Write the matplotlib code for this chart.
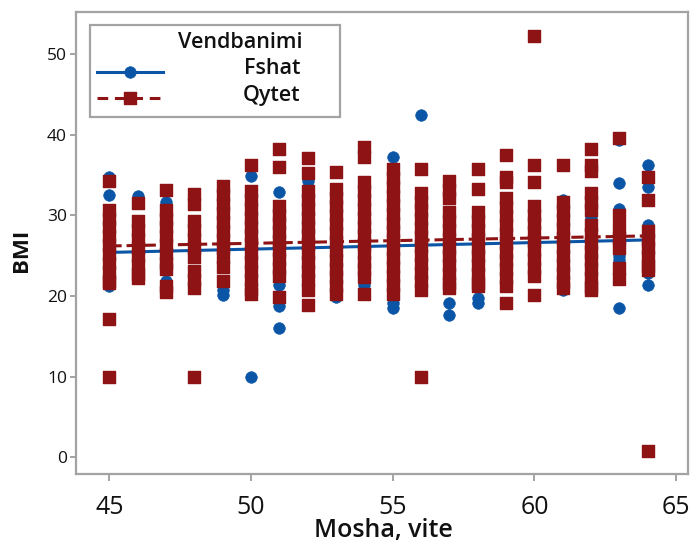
import matplotlib
matplotlib.use("Agg")
import matplotlib.pyplot as plt
from matplotlib.patches import Rectangle
from matplotlib.markers import MarkerStyle

# ---------------- data ----------------
ages = list(range(45, 65))

# Qytet (city) BMI values per age
qytet = {
    45: [34.3, 30.7, 29.6, 28.5, 27.4, 26.3, 25.2, 24.1, 23.0, 21.9, 21.6, 17.1, 10.0],
    46: [31.5, 29.3, 28.2, 27.1, 26.0, 24.9, 23.8, 22.7, 22.2],
    47: [33.1, 30.7, 29.6, 28.5, 27.4, 26.3, 25.2, 24.1, 23.4, 21.2, 20.5],
    48: [32.6, 31.4, 29.3, 28.2, 27.1, 26.0, 24.8, 23.1, 22.0, 21.0, 10.0],
    49: [33.6, 32.5, 31.4, 30.3, 29.2, 28.1, 27.0, 25.9, 24.8, 23.6, 21.8],
    50: [36.2, 33.0, 31.9, 30.8, 29.7, 28.6, 27.5, 26.4, 25.3, 24.2, 23.1, 22.0, 20.9, 20.3],
    51: [38.2, 36.0, 31.2, 30.1, 29.0, 27.9, 26.8, 25.7, 24.6, 23.5, 22.5, 19.9],
    52: [37.1, 35.2, 33.0, 31.9, 30.8, 29.7, 28.6, 27.5, 26.4, 25.3, 24.2, 23.1, 22.0, 20.7, 18.9],
    53: [35.4, 33.3, 32.2, 31.1, 30.0, 28.9, 27.8, 26.7, 25.6, 24.5, 23.4, 22.3, 21.2, 20.3],
    54: [38.5, 37.2, 34.1, 33.0, 31.9, 30.8, 29.7, 28.6, 27.5, 26.4, 25.3, 24.2, 23.3, 22.4, 20.3],
    55: [35.7, 34.6, 33.5, 32.4, 31.3, 30.2, 29.1, 28.0, 26.9, 25.8, 24.7, 23.6, 22.5, 21.4, 20.3],
    56: [35.8, 32.8, 31.7, 30.6, 29.5, 28.4, 27.3, 26.2, 25.1, 24.0, 22.9, 21.8, 20.7, 10.0],
    57: [34.3, 33.2, 32.1, 30.4, 29.3, 28.2, 27.1, 26.0, 24.9, 23.8, 22.7, 21.6, 21.0],
    58: [35.8, 33.3, 30.4, 29.3, 28.2, 27.1, 26.0, 24.9, 23.8, 22.7, 21.6, 21.2],
    59: [37.5, 34.8, 34.1, 32.1, 31.0, 29.9, 28.8, 27.7, 26.6, 25.5, 24.4, 23.3, 22.2, 21.2, 19.1],
    60: [52.2, 36.3, 34.1, 31.2, 30.1, 29.0, 27.9, 26.8, 25.7, 24.6, 23.5, 22.5, 20.1],
    61: [36.2, 31.6, 30.5, 29.4, 28.3, 27.2, 26.1, 25.0, 23.9, 22.8, 21.7, 21.0],
    62: [38.2, 36.3, 35.5, 32.8, 31.7, 30.6, 28.8, 27.7, 26.6, 25.5, 24.4, 23.3, 22.2, 21.1, 20.7],
    63: [39.6, 30.0, 28.4, 27.2, 26.0, 23.5, 22.1],
    64: [34.7, 31.9, 28.1, 27.0, 25.9, 24.8, 23.7, 23.2, 0.8],
}

# Fshat (village) BMI values per age
fshat = {
    45: [34.8, 32.5, 29.0, 27.0, 25.0, 23.0, 21.2],
    46: [32.4, 28.0, 26.0, 24.0],
    47: [31.6, 29.0, 27.0, 25.0, 21.9],
    48: [28.0, 26.0, 22.0],
    49: [29.0, 26.0, 24.0, 20.7, 20.1],
    50: [34.9, 30.0, 27.0, 24.0, 21.0, 10.0],
    51: [32.9, 29.0, 26.0, 23.0, 21.4, 18.7, 16.0],
    52: [34.2, 30.0, 27.0, 24.0, 21.5],
    53: [31.0, 28.0, 25.0, 22.0, 19.9],
    54: [32.0, 29.0, 26.0, 23.5, 21.35],
    55: [37.2, 33.0, 29.0, 25.0, 22.0, 19.1, 18.5],
    56: [42.4, 30.0, 27.0, 24.0, 21.5],
    57: [29.0, 26.0, 23.0, 19.1, 17.6],
    58: [29.0, 26.0, 23.0, 19.7, 19.1],
    59: [30.0, 27.0, 24.0],
    60: [29.0, 26.0, 23.5],
    61: [31.9, 28.0, 25.0, 22.5, 20.7],
    62: [29.7, 27.0, 24.0, 22.0],
    63: [39.3, 34.0, 30.8, 27.0, 24.9, 24.5, 18.5],
    64: [36.2, 33.5, 28.8, 26.0, 22.8, 21.3],
}

# fitted regression lines (end points)
fit_x = [45, 64]
fit_fshat = [25.4, 26.95]
fit_qytet = [26.2, 27.45]

legend_title = "Vendbanimi"
group_labels = ["Fshat", "Qytet"]
x_label = "Mosha, vite"
y_label = "BMI"
x_ticks = [45, 50, 55, 60, 65]
y_ticks = [0, 10, 20, 30, 40, 50]

BLUE = "#0a55a5"
RED = "#8e1315"
GRAY = "#a3a3a3"

plt.rcParams["font.family"] = ["Open Sans", "DejaVu Sans"]

fig = plt.figure(figsize=(6.91, 5.44), dpi=100)
ax = fig.add_axes([0.1100, 0.1278, 0.8857, 0.8496])

fx = [a for a in ages for _ in fshat[a]]
fy = [v for a in ages for v in fshat[a]]
qx = [a for a in ages for _ in qytet[a]]
qy = [v for a in ages for v in qytet[a]]

sq = MarkerStyle("s", joinstyle="round")

ax.plot(fit_x, fit_fshat, color=BLUE, lw=2.2, zorder=1.5, solid_capstyle="butt")
ax.plot(fit_x, fit_qytet, color=RED, lw=2.2, zorder=1.6, dashes=(4, 1.6))

ax.scatter(fx, fy, marker="o", s=8.4 ** 2, c=BLUE, edgecolors=BLUE, linewidths=0.4, zorder=2)
ax.scatter(qx, qy, marker=sq, s=8.0 ** 2, c=RED, edgecolors=RED, linewidths=1.0, zorder=3)

ax.set_xlim(43.82, 65.42)
ax.set_ylim(-2.13, 55.17)
ax.set_xticks(x_ticks)
ax.set_yticks(y_ticks)

for s in ax.spines.values():
    s.set_color(GRAY)
    s.set_linewidth(1.6)

ax.tick_params(axis="x", direction="out", length=5, width=1.4, color=GRAY,
               labelsize=18, pad=10, labelcolor="#111111")
ax.tick_params(axis="y", direction="out", length=4.5, width=1.4, color=GRAY,
               labelsize=12.5, pad=2, labelcolor="#111111")

fig.text(383 / 691, 1 - 537 / 544, x_label, ha="center", va="baseline",
         fontsize=18, fontweight="semibold", color="#111111")
fig.text(22 / 691, 1 - 250 / 544, y_label, ha="center", va="center", rotation=90,
         fontsize=16, fontweight="bold", color="#111111")

# ---- legend (drawn by hand to keep right-aligned labels) ----
def axfrac(px, py):
    return (px - 76) / 612.0, (474.5 - py) / 462.2

x0, y1 = axfrac(90, 25)
x1, y0 = axfrac(340, 117)
ax.add_patch(Rectangle((x0, y0), x1 - x0, y1 - y0, transform=ax.transAxes,
                       facecolor="white", edgecolor=GRAY, lw=1.6, zorder=10, clip_on=False))

tx, ty = axfrac(302, 43)
ax.text(tx, ty, legend_title, transform=ax.transAxes, ha="right", va="center",
        fontsize=15.5, fontweight="semibold", color="#111111", zorder=11)
for lab, py in zip(group_labels, [69, 96]):
    lx, ly = axfrac(300, py)
    ax.text(lx, ly, lab, transform=ax.transAxes, ha="right", va="center",
            fontsize=15.5, fontweight="semibold", color="#111111", zorder=11)

hx0, hy = axfrac(97, 72)
hx1, _ = axfrac(163, 72)
hm, _ = axfrac(130, 72)
ax.plot([hx0, hx1], [hy, hy], transform=ax.transAxes, color=BLUE, lw=2.2, zorder=11, clip_on=False)
ax.plot([hm], [hy], transform=ax.transAxes, marker="o", ms=8.4, mfc=BLUE, mec=BLUE, mew=0.4,
        zorder=12, clip_on=False)
_, hy2 = axfrac(97, 98)
ax.plot([hx0, hx1], [hy2, hy2], transform=ax.transAxes, color=RED, lw=2.2, zorder=11,
        dashes=(3.5, 2.2), clip_on=False)
ax.plot([hm], [hy2], transform=ax.transAxes, marker=sq, ms=8.0, mfc=RED, mec=RED, mew=1.0,
        zorder=12, clip_on=False)

fig.savefig("out.png", dpi=100)
